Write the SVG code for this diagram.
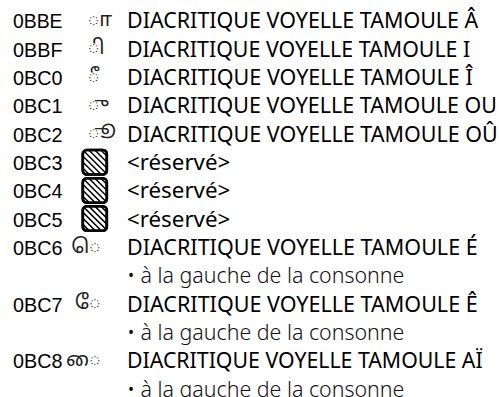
<svg xmlns="http://www.w3.org/2000/svg" width="499" height="397" viewBox="0 0 499 397">
<style>
.c{font-family:"Liberation Sans",Arial,sans-serif;font-size:21px;fill:#000}
.d{font-family:"Noto Sans","Open Sans",sans-serif;font-size:21px;fill:#000}
.b{font-family:"Noto Sans","Open Sans",sans-serif;font-size:21px;font-weight:300;fill:#111}
.t{font-family:"Noto Sans Tamil","Latha","Noto Sans",sans-serif;font-size:20px;fill:#222}
.box{fill:#fff;stroke:#000;stroke-width:2.6}
.h{stroke:#000;stroke-width:1.5}
</style>
<defs>
<clipPath id="cp"><rect x="0" y="0" width="24" height="24.5" rx="4"/></clipPath>
<g id="res">
<rect class="box" x="0" y="0" width="24" height="24.5" rx="4"/>
<g clip-path="url(#cp)" class="h">
<line x1="-18" y1="0" x2="7" y2="25"/>
<line x1="-12" y1="0" x2="13" y2="25"/>
<line x1="-6" y1="0" x2="19" y2="25"/>
<line x1="0" y1="0" x2="25" y2="25"/>
<line x1="6" y1="0" x2="31" y2="25"/>
<line x1="12" y1="0" x2="37" y2="25"/>
<line x1="18" y1="0" x2="43" y2="25"/>
</g>
<rect x="0" y="0" width="24" height="24.5" rx="4" fill="none" stroke="#000" stroke-width="2.6"/>
</g>
</defs>
<rect width="499" height="397" fill="#fff"/>
<g id="r0BBE">
<text class="c" x="13" y="28.3" textLength="49.5" lengthAdjust="spacingAndGlyphs">0BBE</text>
<text class="t" x="88" y="26">◌ா</text>
<text class="d" x="127" y="28.3" textLength="351.3" lengthAdjust="spacingAndGlyphs">DIACRITIQUE VOYELLE TAMOULE Â</text>
</g>
<g id="r0BBF">
<text class="c" x="13" y="56.7" textLength="49.5" lengthAdjust="spacingAndGlyphs">0BBF</text>
<text class="t" x="88" y="54.4">◌ி</text>
<text class="d" x="127" y="56.7" textLength="343.3" lengthAdjust="spacingAndGlyphs">DIACRITIQUE VOYELLE TAMOULE I</text>
</g>
<g id="r0BC0">
<text class="c" x="13" y="85" textLength="49.5" lengthAdjust="spacingAndGlyphs">0BC0</text>
<text class="t" x="88" y="82.7">◌ீ</text>
<text class="d" x="127" y="85" textLength="345.7" lengthAdjust="spacingAndGlyphs">DIACRITIQUE VOYELLE TAMOULE Î</text>
</g>
<g id="r0BC1">
<text class="c" x="13" y="113.3" textLength="49.5" lengthAdjust="spacingAndGlyphs">0BC1</text>
<text class="t" x="88" y="111">◌ு</text>
<text class="d" x="127" y="113.3" textLength="370" lengthAdjust="spacingAndGlyphs">DIACRITIQUE VOYELLE TAMOULE OU</text>
</g>
<g id="r0BC2">
<text class="c" x="13" y="141.7" textLength="49.5" lengthAdjust="spacingAndGlyphs">0BC2</text>
<text class="t" x="88" y="139.4">◌ூ</text>
<text class="d" x="127" y="141.7" textLength="370.7" lengthAdjust="spacingAndGlyphs">DIACRITIQUE VOYELLE TAMOULE OÛ</text>
</g>
<g id="r0BC3">
<text class="c" x="13" y="170" textLength="49.5" lengthAdjust="spacingAndGlyphs">0BC3</text>
<use href="#res" x="82.8" y="150"/>
<text class="d" x="127" y="170" textLength="103.3" lengthAdjust="spacingAndGlyphs">&lt;réservé&gt;</text>
</g>
<g id="r0BC4">
<text class="c" x="13" y="198.3" textLength="49.5" lengthAdjust="spacingAndGlyphs">0BC4</text>
<use href="#res" x="82.8" y="178.3"/>
<text class="d" x="127" y="198.3" textLength="103.3" lengthAdjust="spacingAndGlyphs">&lt;réservé&gt;</text>
</g>
<g id="r0BC5">
<text class="c" x="13" y="226.7" textLength="49.5" lengthAdjust="spacingAndGlyphs">0BC5</text>
<use href="#res" x="82.8" y="206.2"/>
<text class="d" x="127" y="226.7" textLength="103.3" lengthAdjust="spacingAndGlyphs">&lt;réservé&gt;</text>
</g>
<g id="r0BC6">
<text class="c" x="13" y="255" textLength="49.5" lengthAdjust="spacingAndGlyphs">0BC6</text>
<text class="t" x="100.5" y="252.7" text-anchor="end">◌ெ</text>
<text class="d" x="127" y="255" textLength="350.7" lengthAdjust="spacingAndGlyphs">DIACRITIQUE VOYELLE TAMOULE É</text>
<text class="b" x="127" y="283.3" textLength="277.3" lengthAdjust="spacingAndGlyphs">• à la gauche de la consonne</text>
</g>
<g id="r0BC7">
<text class="c" x="13" y="311.7" textLength="49.5" lengthAdjust="spacingAndGlyphs">0BC7</text>
<text class="t" x="100.5" y="309.4" text-anchor="end">◌ே</text>
<text class="d" x="127" y="311.7" textLength="350.7" lengthAdjust="spacingAndGlyphs">DIACRITIQUE VOYELLE TAMOULE Ê</text>
<text class="b" x="127" y="340" textLength="277.3" lengthAdjust="spacingAndGlyphs">• à la gauche de la consonne</text>
</g>
<g id="r0BC8">
<text class="c" x="13" y="368.3" textLength="49.5" lengthAdjust="spacingAndGlyphs">0BC8</text>
<text class="t" x="100.5" y="366" text-anchor="end">◌ை</text>
<text class="d" x="127" y="368.3" textLength="355.7" lengthAdjust="spacingAndGlyphs">DIACRITIQUE VOYELLE TAMOULE AÏ</text>
<text class="b" x="127" y="396.7" textLength="277.3" lengthAdjust="spacingAndGlyphs">• à la gauche de la consonne</text>
</g>
</svg>
